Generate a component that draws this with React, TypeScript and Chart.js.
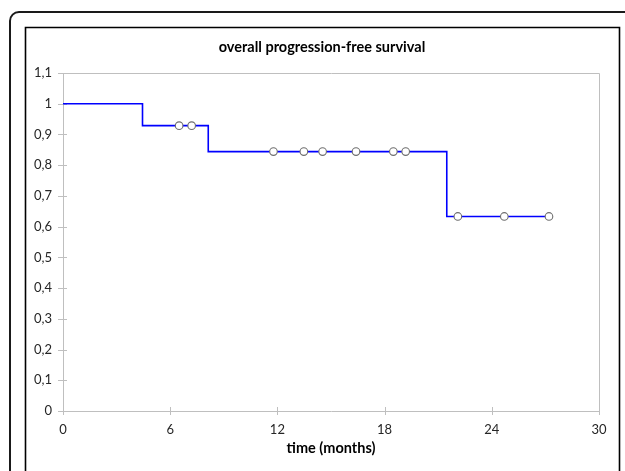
import React, { useEffect, useRef } from 'react';
import { Chart, registerables } from 'chart.js';

Chart.register(...registerables);

// Kaplan-Meier step curve (time in months, survival probability)
const eventTimes = [0, 4.45, 8.13, 21.48, 27.2];
const survival = [1, 0.9286, 0.8442, 0.6331, 0.6331];

// Censored observations
const censorTimes = [6.5, 7.2, 11.78, 13.48, 14.53, 16.4, 18.49, 19.18, 22.1, 24.7, 27.2];
const censorSurvival = [0.9286, 0.9286, 0.8442, 0.8442, 0.8442, 0.8442, 0.8442, 0.8442, 0.6331, 0.6331, 0.6331];

const xTicks = [0, 6, 12, 18, 24, 30];
const yTicks = [0, 0.1, 0.2, 0.3, 0.4, 0.5, 0.6, 0.7, 0.8, 0.9, 1, 1.1];

const chartTitle = 'overall progression-free survival';
const xAxisTitle = 'time (months)';

const FONT = 'Lato, "Liberation Sans", sans-serif';
const AXIS_GRAY = '#bfbfbf';

const framePlugin = {
  id: 'frame',
  beforeDraw(chart: any) {
    const ctx = chart.ctx;
    const W = chart.width;
    const H = chart.height;
    ctx.save();
    ctx.fillStyle = '#ffffff';
    ctx.fillRect(0, 0, W, H);
    // outer rounded frame
    ctx.strokeStyle = '#1a1a1a';
    ctx.lineWidth = 2;
    ctx.beginPath();
    const ox = 10, oy = 12, r = 9;
    ctx.moveTo(ox, H + 10);
    ctx.lineTo(ox, oy + r);
    ctx.arcTo(ox, oy, ox + r, oy, r);
    ctx.lineTo(W + 10, oy);
    ctx.stroke();
    // inner frame
    ctx.strokeStyle = '#000000';
    ctx.lineWidth = 1.6;
    ctx.beginPath();
    ctx.moveTo(25.5, H + 10);
    ctx.lineTo(25.5, 27.5);
    ctx.lineTo(619.5, 27.5);
    ctx.lineTo(619.5, H + 10);
    ctx.stroke();
    ctx.restore();
  },
  beforeDatasetsDraw(chart: any) {
    const ctx = chart.ctx;
    const a = chart.chartArea;
    const xs = chart.scales.x;
    const ys = chart.scales.y;
    ctx.save();
    ctx.strokeStyle = AXIS_GRAY;
    ctx.lineWidth = 1;
    // top & right plot border
    ctx.beginPath();
    ctx.moveTo(Math.round(a.left) + 0.5, Math.round(a.top) + 0.5);
    ctx.lineTo(Math.round(a.right) + 0.5, Math.round(a.top) + 0.5);
    ctx.lineTo(Math.round(a.right) + 0.5, Math.round(a.bottom) + 0.5);
    ctx.stroke();
    // crossing tick marks
    ctx.beginPath();
    for (const t of xTicks) {
      const px = Math.round(xs.getPixelForValue(t)) + 0.5;
      ctx.moveTo(px, a.bottom - 4);
      ctx.lineTo(px, a.bottom + 4);
    }
    for (const t of yTicks) {
      const py = Math.round(ys.getPixelForValue(t)) + 0.5;
      ctx.moveTo(a.left - 5, py);
      ctx.lineTo(a.left + 4, py);
    }
    ctx.stroke();
    ctx.restore();
  },
  afterDraw(chart: any) {
    const ctx = chart.ctx;
    const a = chart.chartArea;
    ctx.save();
    ctx.fillStyle = '#000000';
    ctx.textAlign = 'center';
    ctx.textBaseline = 'middle';
    ctx.font = `bold 14.5px ${FONT}`;
    ctx.fillText(chartTitle, 322, 47);
    ctx.font = `bold 14.5px ${FONT}`;
    ctx.fillText(xAxisTitle, (a.left + a.right) / 2, 448);
    ctx.restore();
  },
};

export default function App() {
  const ref = useRef<HTMLCanvasElement | null>(null);

  useEffect(() => {
    const canvas = ref.current;
    if (!canvas) return;
    const chart = new Chart(canvas, {
      type: 'scatter',
      data: {
        datasets: [
          {
            label: 'survival',
            data: eventTimes.map((t, i) => ({ x: t, y: survival[i] })),
            showLine: true,
            stepped: 'before',
            borderColor: '#0000ff',
            borderWidth: 1.6,
            pointRadius: 0,
            pointHoverRadius: 0,
            fill: false,
            order: 2,
          },
          {
            label: 'censored',
            data: censorTimes.map((t, i) => ({ x: t, y: censorSurvival[i] })),
            showLine: false,
            pointRadius: 3.8,
            pointBackgroundColor: '#ffffff',
            pointBorderColor: '#6e6e6e',
            pointBorderWidth: 1.1,
            order: 1,
          },
        ],
      },
      options: {
        responsive: false,
        animation: false,
        devicePixelRatio: 1,
        layout: { padding: { top: 73, right: 26, bottom: 0, left: 0 } },
        plugins: {
          legend: { display: false },
          title: { display: false },
          tooltip: { enabled: false },
        },
        scales: {
          x: {
            type: 'linear',
            min: 0,
            max: 30,
            afterBuildTicks: (s: any) => {
              s.ticks = xTicks.map((v) => ({ value: v }));
            },
            afterFit: (s: any) => {
              s.height = 60;
            },
            grid: { display: true, drawOnChartArea: false, drawTicks: false },
            border: { display: true, color: AXIS_GRAY, width: 1 },
            ticks: {
              padding: 11,
              color: '#262626',
              font: { family: FONT, size: 13 },
              maxRotation: 0,
              callback: (v: any) => String(v),
            },
          },
          y: {
            type: 'linear',
            min: 0,
            max: 1.1,
            afterBuildTicks: (s: any) => {
              s.ticks = yTicks.map((v) => ({ value: v }));
            },
            afterFit: (s: any) => {
              s.width = 63;
            },
            grid: { display: true, drawOnChartArea: false, drawTicks: false },
            border: { display: true, color: AXIS_GRAY, width: 1 },
            ticks: {
              padding: 11,
              color: '#262626',
              font: { family: FONT, size: 13 },
              callback: (v: any) => String(Math.round(Number(v) * 10) / 10).replace('.', ','),
            },
          },
        },
      },
      plugins: [framePlugin],
    });
    return () => chart.destroy();
  }, []);

  return (
    <div style={{ position: 'fixed', left: 0, top: 0, width: 625, height: 471, background: '#fff' }}>
      <canvas ref={ref} width={625} height={471} style={{ width: 625, height: 471, display: 'block' }} />
    </div>
  );
}
